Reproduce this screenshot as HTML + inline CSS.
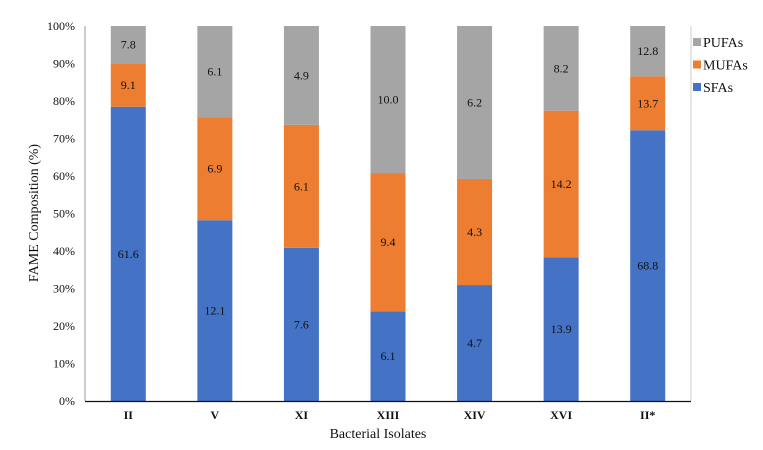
<!DOCTYPE html>
<html><head><meta charset="utf-8"><style>
body{margin:0;background:#fff;}
svg text{font-family:"Liberation Serif",serif;fill:#111;}
</style></head><body>
<svg id="chart" width="763" height="445" xmlns="http://www.w3.org/2000/svg"></svg>
<script>
const categories=["II","V","XI","XIII","XIV","XVI","II*"];
const sfa=[61.6,12.1,7.6,6.1,4.7,13.9,68.8];
const mufa=[9.1,6.9,6.1,9.4,4.3,14.2,13.7];
const pufa=[7.8,6.1,4.9,10.0,6.2,8.2,12.8];
const yTicks=[0,10,20,30,40,50,60,70,80,90,100];
const seriesNames=["SFAs","MUFAs","PUFAs"];
const colors=["#4472C4","#ED7D31","#A5A5A5"];

const NS="http://www.w3.org/2000/svg";
const svg=document.getElementById('chart');
const L=85,R=691,T=26,B=401;
const y=v=>B-(B-T)*v/100;
const band=(R-L)/categories.length;
const xc=i=>L+band*(i+0.5);
const bw=35;
function el(tag,attrs,txt){const e=document.createElementNS(NS,tag);for(const k in attrs)e.setAttribute(k,attrs[k]);if(txt!==undefined)e.textContent=txt;svg.appendChild(e);return e;}

yTicks.forEach(t=>{
  const e=el('text',{x:75,y:y(t)+4,'text-anchor':'end','font-size':12},t+'%');
  
  
});
const lb=el('line',{x1:L,x2:L,y1:T,y2:B,stroke:'#999','stroke-width':1});


const rb=el('line',{x1:R,x2:R,y1:T,y2:B,stroke:'#ccc','stroke-width':1});



const series=[sfa,mufa,pufa];
categories.forEach((c,i)=>{
  const tot=sfa[i]+mufa[i]+pufa[i];
  let acc=0;
  series.forEach((s,k)=>{
    const p=s[i]/tot*100;
    const y0=y(acc),y1=y(acc+p);
    const r=el('rect',{x:xc(i)-bw/2,y:y1,width:bw,height:y0-y1,fill:colors[k]});
    
    
    const t=el('text',{x:xc(i),y:(y0+y1)/2+4,'text-anchor':'middle','font-size':12},s[i].toFixed(1));
    
    
    acc+=p;
  });
  const tk=el('text',{x:xc(i),y:419,'text-anchor':'middle','font-size':12,'font-weight':'bold'},c);
  
  
});
const ax=el('line',{x1:L,x2:R,y1:B+0.5,y2:B+0.5,stroke:'#111','stroke-width':1.2});



const xt=el('text',{x:378,y:438,'text-anchor':'middle','font-size':14},'Bacterial Isolates');


const yt=el('text',{x:0,y:0,'text-anchor':'middle','font-size':14,transform:'translate(38,213) rotate(-90)'},'FAME Composition (%)');



[2,1,0].forEach((k,j)=>{
  const ly=42+j*22.5;
  const r=el('rect',{x:693,y:ly-4,width:8,height:8,fill:colors[k]});
  
  
  const t=el('text',{x:703,y:ly+5,'font-size':14},seriesNames[k]);
  
  
});
</script>
</body></html>
